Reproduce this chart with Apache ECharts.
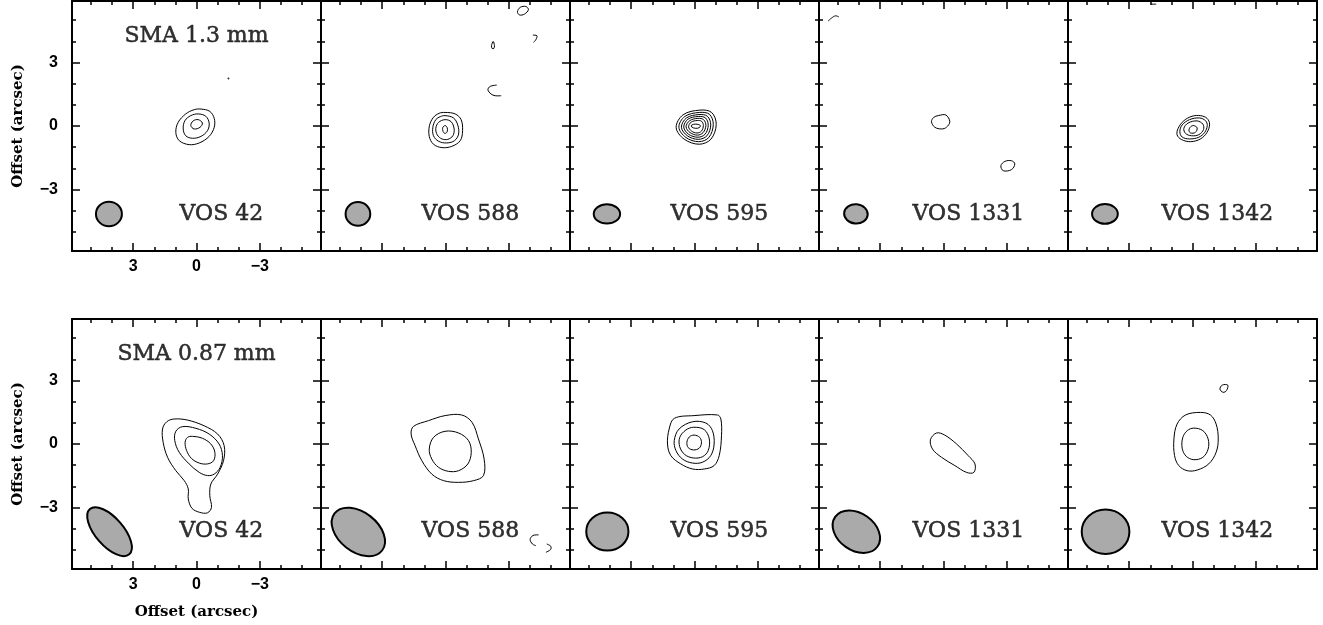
<!DOCTYPE html>
<html>
<head>
<meta charset="utf-8">
<script src="https://cdn.jsdelivr.net/npm/echarts@6/dist/echarts.min.js"></script>
<style>
  html, body { margin: 0; padding: 0; background: #fff; }
  #chart { width: 1323px; height: 625px; }
</style>
</head>
<body>
<div id="chart"></div>
<script>
// --- data (offsets in arcsec) ---
const sources = ["VOS 42", "VOS 588", "VOS 595", "VOS 1331", "VOS 1342"];
const bands = ["SMA 1.3 mm", "SMA 0.87 mm"];
const majorTicks = [3, 0, -3];
const minorTicks = [-5, -4, -3, -2, -1, 0, 1, 2, 3, 4, 5];

// beam: [x, y, major, minor, PA]
const beams13 = [
  [4.15, -4.15, 1.23, 1.16, 90],
  [4.15, -4.15, 1.17, 1.12, 90],
  [4.15, -4.15, 1.25, 0.91, 90],
  [4.15, -4.15, 1.12, 0.91, 85],
  [4.15, -4.15, 1.22, 0.93, 90]
];
const beams087 = [
  [4.12, -4.14, 2.84, 1.32, 41],
  [4.13, -4.15, 2.86, 1.86, 52],
  [4.13, -4.13, 2.00, 1.80, 90],
  [4.13, -4.14, 2.45, 1.75, 55],
  [4.12, -4.14, 2.26, 2.10, 90]
];

// 1.3 mm contours
const cont13_vos42 = [
  [[-0.21,0.80],[-0.63,0.69],[-0.84,0.36],[-0.84,-0.06],[-0.60,-0.49],[-0.13,-0.80],[0.35,-0.88],[0.82,-0.69],[0.98,-0.30],[0.87,0.17],[0.51,0.57],[0.11,0.77]],
  [[-0.08,0.57],[-0.44,0.46],[-0.60,0.14],[-0.52,-0.22],[-0.21,-0.49],[0.19,-0.58],[0.51,-0.46],[0.63,-0.14],[0.55,0.25],[0.27,0.49]],
  [[-0.08,0.30],[-0.28,0.14],[-0.17,-0.06],[0.11,-0.14],[0.27,0.02],[0.16,0.24]],
  [[-1.50,2.27],[-1.55,2.24],[-1.50,2.22]]
];
const cont13_vos588 = [
  [[0.02,0.64],[-0.46,0.57],[-0.74,0.30],[-0.81,-0.22],[-0.70,-0.69],[-0.30,-0.96],[0.17,-1.02],[0.57,-0.86],[0.77,-0.49],[0.76,0.02],[0.57,0.41],[0.30,0.60]],
  [[0.02,0.49],[-0.38,0.38],[-0.58,0.05],[-0.62,-0.38],[-0.43,-0.69],[-0.06,-0.80],[0.33,-0.72],[0.57,-0.46],[0.60,-0.06],[0.46,0.30],[0.25,0.44]],
  [[0.02,0.30],[-0.27,0.20],[-0.41,-0.14],[-0.35,-0.46],[-0.11,-0.63],[0.17,-0.61],[0.39,-0.42],[0.46,-0.11],[0.33,0.17]],
  [[0.02,0.02],[-0.08,-0.08],[-0.08,-0.27],[0.02,-0.35],[0.11,-0.27],[0.13,-0.08]],
  [[-3.54,5.60],[-3.81,5.64],[-3.93,5.49],[-3.74,5.28],[-3.51,5.24],[-3.41,5.39]],
  [[-2.26,3.99],[-2.32,3.79],[-2.29,3.66],[-2.21,3.66],[-2.18,3.79]]
];
const open13_vos588 = [
  [[-4.14,4.29],[-4.33,4.26],[-4.28,4.07],[-4.17,3.95]],
  [[-2.43,1.93],[-2.12,1.87],[-2.01,1.71],[-2.16,1.51],[-2.35,1.43],[-2.64,1.43]]
];
const cont13_vos595 = [
  [[-0.26,0.75],[-0.81,0.64],[-1.03,0.08],[-0.78,-0.62],[-0.22,-0.86],[0.49,-0.62],[0.87,-0.07],[0.54,0.53]],
  [[-0.23,0.64],[-0.71,0.55],[-0.89,0.07],[-0.68,-0.54],[-0.20,-0.74],[0.41,-0.54],[0.74,-0.06],[0.46,0.45]],
  [[-0.21,0.54],[-0.61,0.46],[-0.77,0.05],[-0.59,-0.46],[-0.18,-0.63],[0.34,-0.46],[0.62,-0.06],[0.38,0.38]],
  [[-0.18,0.45],[-0.52,0.38],[-0.65,0.04],[-0.50,-0.39],[-0.16,-0.53],[0.28,-0.39],[0.51,-0.05],[0.31,0.32]],
  [[-0.16,0.36],[-0.43,0.30],[-0.54,0.03],[-0.41,-0.31],[-0.14,-0.43],[0.21,-0.31],[0.40,-0.04],[0.23,0.25]],
  [[-0.13,0.26],[-0.34,0.22],[-0.42,0.02],[-0.33,-0.24],[-0.12,-0.33],[0.14,-0.24],[0.28,-0.04],[0.16,0.18]],
  [[-0.06,0.09],[-0.27,0.03],[-0.24,-0.07],[-0.06,-0.11],[0.13,-0.05],[0.14,0.04]]
];
const cont13_vos1331 = [
  [[0.25,0.49],[-0.11,0.52],[-0.30,0.20],[-0.14,-0.06],[0.09,-0.14],[0.41,-0.06],[0.57,0.20],[0.46,0.41]],
  [[-2.91,-1.67],[-3.22,-1.64],[-3.38,-1.79],[-3.22,-2.06],[-2.83,-2.11],[-2.72,-1.87]]
];
const open13_vos1331 = [
  [[5.47,4.95],[5.30,5.10],[5.12,5.20],[4.96,5.15]]
];
const cont13_vos1342 = [
  [[-0.38,0.49],[-0.69,0.36],[-0.81,0.09],[-0.69,-0.30],[-0.38,-0.61],[0.09,-0.74],[0.52,-0.64],[0.73,-0.42],[0.68,-0.11],[0.41,0.25],[0.02,0.46]],
  [[-0.33,0.38],[-0.62,0.25],[-0.70,0.02],[-0.58,-0.30],[-0.30,-0.53],[0.14,-0.61],[0.49,-0.52],[0.60,-0.27],[0.49,0.05],[0.14,0.30]],
  [[-0.22,0.24],[-0.49,0.09],[-0.52,-0.17],[-0.30,-0.41],[0.05,-0.46],[0.33,-0.35],[0.41,-0.11],[0.21,0.14]],
  [[-0.06,0.02],[-0.22,-0.09],[-0.14,-0.30],[0.09,-0.33],[0.17,-0.19],[0.08,-0.03]]
];
const open13_vos1342 = [
  [[1.98,5.75],[1.72,5.75]]
];

// 0.87 mm contours
const cont087_vos42 = [
  [[1.06,1.18],[0.43,1.13],[-0.36,0.86],[-1.00,0.47],[-1.31,-0.08],[-1.28,-0.79],[-1.00,-1.42],[-0.68,-1.89],[-0.63,-2.44],[-0.71,-2.99],[-0.52,-3.25],[-0.13,-3.22],[0.22,-3.03],[0.39,-2.59],[0.39,-2.12],[0.58,-1.73],[0.98,-1.26],[1.37,-0.63],[1.58,0.08],[1.61,0.71],[1.41,1.05]],
  [[0.66,0.82],[0.03,0.74],[-0.60,0.47],[-1.07,0.00],[-1.23,-0.55],[-1.12,-1.10],[-0.84,-1.42],[-0.52,-1.49],[-0.13,-1.34],[0.35,-0.94],[0.82,-0.39],[1.03,0.16],[0.98,0.60]],
  [[0.19,0.36],[-0.28,0.27],[-0.68,0.00],[-0.87,-0.39],[-0.81,-0.79],[-0.52,-0.94],[-0.13,-0.90],[0.24,-0.68],[0.47,-0.31],[0.54,0.08],[0.43,0.31]]
];
const cont087_vos588 = [
  [[1.52,0.83],[0.81,1.10],[0.02,1.34],[-0.77,1.37],[-1.26,1.02],[-1.56,0.24],[-1.83,-0.71],[-1.80,-1.49],[-1.33,-1.73],[-0.62,-1.81],[0.09,-1.73],[0.65,-1.42],[1.12,-0.79],[1.44,-0.08],[1.63,0.47]],
  [[0.02,0.60],[-0.62,0.52],[-1.09,0.16],[-1.22,-0.39],[-1.06,-0.94],[-0.62,-1.26],[-0.14,-1.29],[0.33,-1.10],[0.65,-0.71],[0.77,-0.24],[0.57,0.31]]
];
const open087_vos588 = [
  [[-4.41,-4.29],[-4.14,-4.32],[-4.01,-4.51],[-4.12,-4.72],[-4.28,-4.80]],
  [[-4.80,-4.72],[-4.99,-4.83],[-4.98,-4.98],[-4.76,-5.11]]
];
const cont087_vos595 = [
  [[0.96,1.21],[0.02,1.34],[-1.09,1.37],[-1.25,1.18],[-1.28,0.39],[-1.17,-0.55],[-0.93,-1.02],[-0.46,-1.18],[0.09,-1.18],[0.65,-0.94],[1.12,-0.55],[1.28,0.00],[1.20,0.71]],
  [[0.09,1.05],[-0.54,0.99],[-0.85,0.63],[-0.93,0.00],[-0.77,-0.55],[-0.38,-0.86],[0.09,-0.90],[0.57,-0.71],[0.88,-0.31],[0.96,0.16],[0.73,0.71]],
  [[0.05,0.79],[-0.46,0.68],[-0.70,0.24],[-0.65,-0.31],[-0.38,-0.60],[0.05,-0.66],[0.46,-0.50],[0.70,-0.13],[0.70,0.31],[0.41,0.66]],
  [[0.02,0.42],[-0.25,0.31],[-0.33,0.05],[-0.22,-0.20],[0.05,-0.28],[0.30,-0.17],[0.36,0.08],[0.25,0.33]]
];
const cont087_vos1331 = [
  [[0.33,0.52],[-0.06,0.42],[-0.62,0.00],[-1.17,-0.55],[-1.49,-0.94],[-1.44,-1.34],[-1.09,-1.34],[-0.54,-1.02],[0.09,-0.63],[0.52,-0.24],[0.62,0.20]]
];
const cont087_vos1342 = [
  [[0.33,1.37],[-0.38,1.49],[-0.85,1.37],[-1.12,0.94],[-1.22,0.24],[-1.12,-0.39],[-0.77,-0.94],[-0.22,-1.23],[0.25,-1.26],[0.65,-1.02],[0.85,-0.55],[0.88,0.24],[0.73,0.94]],
  [[-0.06,0.75],[-0.49,0.63],[-0.74,0.24],[-0.74,-0.24],[-0.49,-0.63],[-0.06,-0.74],[0.30,-0.58],[0.49,-0.20],[0.46,0.31],[0.25,0.63]],
  [[-1.41,2.78],[-1.67,2.78],[-1.61,2.52],[-1.45,2.44],[-1.30,2.59]]
];

const panels = [
  { closed: cont13_vos42, open: [], beam: beams13[0] },
  { closed: cont13_vos588, open: open13_vos588, beam: beams13[1] },
  { closed: cont13_vos595, open: [], beam: beams13[2] },
  { closed: cont13_vos1331, open: open13_vos1331, beam: beams13[3] },
  { closed: cont13_vos1342, open: open13_vos1342, beam: beams13[4] },
  { closed: cont087_vos42, open: [], beam: beams087[0] },
  { closed: cont087_vos588, open: open087_vos588, beam: beams087[1] },
  { closed: cont087_vos595, open: [], beam: beams087[2] },
  { closed: cont087_vos1331, open: [], beam: beams087[3] },
  { closed: cont087_vos1342, open: [], beam: beams087[4] }
];

// --- layout ---
const LIM = 5.9;
const PW = 249, PH = 250, X0 = 72;
const ROW_TOP = [1, 319];
const NAME_FONT = { fontFamily: "DejaVu Serif", fontWeight: "bold", fontSize: 15, color: "#000" };
const fmt = (v) => (v < 0 ? "\u2212" + Math.abs(v) : String(v));

function makeAxis(gridIndex, isX, position, values, len, withLine, labels, name, nameGap) {
  return {
    type: "value",
    gridIndex,
    position,
    min: -LIM,
    max: LIM,
    inverse: isX,
    name: name || "",
    nameLocation: "middle",
    nameGap: nameGap || 0,
    nameTextStyle: NAME_FONT,
    axisLine: { show: withLine, onZero: false, lineStyle: { color: "#000", width: 2 } },
    axisTick: { show: true, inside: true, length: len, customValues: values, lineStyle: { color: "#000", width: 1.5 } },
    axisLabel: {
      show: labels,
      customValues: majorTicks,
      margin: isX ? 8 : 14,
      formatter: fmt,
      color: "#000",
      fontFamily: "Liberation Sans",
      fontWeight: "bold",
      fontSize: 16
    },
    splitLine: { show: false }
  };
}

const grids = [], xAxis = [], yAxis = [], series = [];

panels.forEach((p, g) => {
  const row = Math.floor(g / 5), col = g % 5;
  const first = col === 0;
  grids.push({ left: X0 + col * PW, top: ROW_TOP[row], width: PW, height: PH, containLabel: false });

  const xName = first && row === 1 ? "Offset (arcsec)" : "";
  const yName = first ? "Offset (arcsec)" : "";
  xAxis.push(makeAxis(g, true, "bottom", majorTicks, 8, true, first, xName, 36));
  xAxis.push(makeAxis(g, true, "bottom", minorTicks, 4, false, false));
  xAxis.push(makeAxis(g, true, "top", majorTicks, 8, true, false));
  xAxis.push(makeAxis(g, true, "top", minorTicks, 4, false, false));
  yAxis.push(makeAxis(g, false, "left", majorTicks, 8, true, first, yName, 46));
  yAxis.push(makeAxis(g, false, "left", minorTicks, 4, false, false));
  yAxis.push(makeAxis(g, false, "right", majorTicks, 8, true, false));
  yAxis.push(makeAxis(g, false, "right", minorTicks, 4, false, false));

  const ax = { xAxisIndex: g * 4, yAxisIndex: g * 4 };

  const contourSeries = (list, open) => Object.assign({
    type: "custom",
    silent: true,
    data: list.map((c) => [c[0][0], c[0][1]]),
    renderItem: (params, api) => {
      const pts = list[params.dataIndex].map((pt) => api.coord(pt));
      return {
        type: open ? "polyline" : "polygon",
        shape: { points: pts, smooth: 0.35 },
        style: { fill: "none", stroke: "#000", lineWidth: 1 }
      };
    }
  }, ax);

  series.push(contourSeries(p.closed, false));
  if (p.open.length) series.push(contourSeries(p.open, true));

  series.push(Object.assign({
    type: "custom",
    silent: true,
    data: [p.beam],
    renderItem: (params, api) => {
      const c = api.coord([api.value(0), api.value(1)]);
      const s = api.size([api.value(2), api.value(3)]);
      return {
        type: "ellipse",
        x: c[0],
        y: c[1],
        rotation: (api.value(4) - 90) * Math.PI / 180,
        shape: { cx: 0, cy: 0, rx: Math.abs(s[0]) / 2, ry: Math.abs(s[1]) / 2 },
        style: { fill: "#aaaaaa", stroke: "#000", lineWidth: 2 }
      };
    }
  }, ax));

  const labels = [{ value: [-1.18, row === 0 ? -4.18 : -4.1], name: sources[col] }];
  if (first) labels.push({ value: [0, row === 0 ? 4.25 : 4.22], name: bands[row] });
  series.push(Object.assign({
    type: "scatter",
    silent: true,
    symbolSize: 0,
    data: labels,
    label: {
      show: true,
      position: "inside",
      formatter: "{b}",
      fontFamily: "DejaVu Serif",
      fontSize: 22,
      color: "#000",
      textBorderColor: "#000",
      textBorderWidth: 0.5
    }
  }, ax));
});

const chart = echarts.init(document.getElementById("chart"), null, { renderer: "canvas" });
chart.setOption({
  animation: false,
  backgroundColor: "#fff",
  grid: grids,
  xAxis,
  yAxis,
  series
});
</script>
</body>
</html>
